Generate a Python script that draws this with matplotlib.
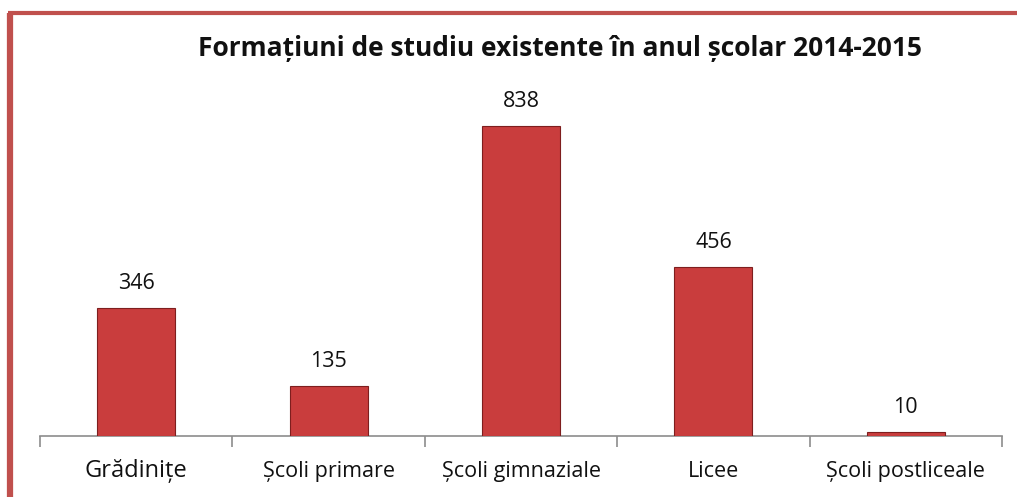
import matplotlib
matplotlib.use("Agg")
import matplotlib.pyplot as plt
from matplotlib.lines import Line2D

categories = ["Grădinițe", "Școli primare", "Școli gimnaziale", "Licee", "Școli postliceale"]
values = [346, 135, 838, 456, 10]
title = "Formațiuni de studiu existente în anul școlar 2014-2015"

W, H = 1017, 497
fig = plt.figure(figsize=(W / 100, H / 100), dpi=100)

# axes: x from 40 to 1002 px, y baseline at 436 px, top at 100 px
x0, x1 = 40, 1002
yb, yt = 436, 100
ax = fig.add_axes([x0 / W, 1 - yb / H, (x1 - x0) / W, (yb - yt) / H])
scale = 0.37  # px per unit
ax.set_ylim(0, (yb - yt) / scale)
ax.set_xlim(-0.5, len(categories) - 0.5)

xs = list(range(len(categories)))
bars = ax.bar(xs, values, width=0.405, color="#C93D3D", edgecolor="#7E1E1E", linewidth=0.8, zorder=3)

for x, v in zip(xs, values):
    ax.annotate(str(v), (x, v), xytext=(0, 13.7), textcoords="offset points",
                ha="center", va="baseline", fontsize=15.5, family="Open Sans", color="#111111")

for s in ["top", "right", "left"]:
    ax.spines[s].set_visible(False)
ax.spines["bottom"].set_color("#8C8C8C")
ax.spines["bottom"].set_linewidth(1.2)
ax.set_yticks([])
ax.set_xticks([i - 0.5 for i in range(len(categories) + 1)], minor=False)
ax.set_xticklabels([])
ax.tick_params(axis="x", length=8, color="#8C8C8C", width=1.2)

label_y = -(477 - yb) / (yb - yt)
for i, c in enumerate(categories):
    if i == 0:
        ax.text(i, label_y, c, transform=ax.get_xaxis_transform(), ha="center", va="baseline",
                fontsize=17, family="Open Sans", color="#111111")
    else:
        ax.text(i, label_y, c, transform=ax.get_xaxis_transform(), ha="center", va="baseline",
                fontsize=15.5, family="Open Sans", color="#111111")

fig.text(560 / W, 1 - 56 / H, title, ha="center", va="baseline", fontsize=19,
         fontweight="bold", family="Open Sans", color="#111111")

# red frame lines (top and left)
fig.add_artist(Line2D([10 / W, 10 / W], [0, 1 - 12.5 / H], color="#C0504D", linewidth=4.5,
                      transform=fig.transFigure, solid_capstyle="butt"))
fig.add_artist(Line2D([8 / W, 1], [1 - 12.5 / H, 1 - 12.5 / H], color="#C0504D", linewidth=3,
                      transform=fig.transFigure, solid_capstyle="butt"))

fig.savefig("out.png", dpi=100)
